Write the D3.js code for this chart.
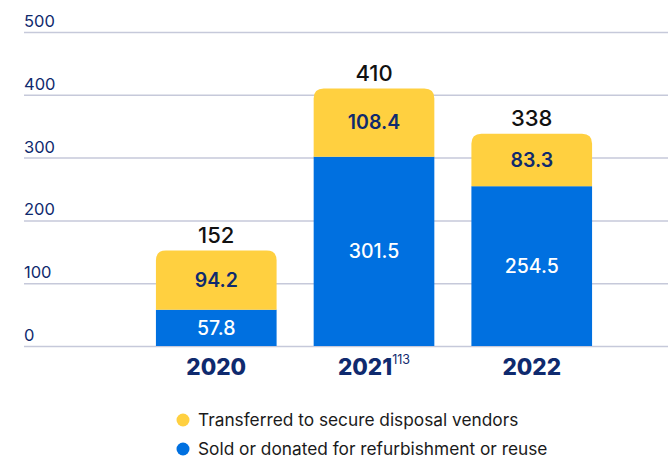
<!DOCTYPE html>
<html>
<head>
<meta charset="utf-8">
<script src="https://cdn.jsdelivr.net/npm/d3@7"></script>
<style>
  body { margin: 0; background: #fff; }
  text { font-family: Inter, "Noto Sans", sans-serif; }
</style>
</head>
<body>
<div id="chart"></div>
<script>
// DATA
const years = ["2020", "2021", "2022"];
const soldDonated = [57.8, 301.5, 254.5];
const transferred = [94.2, 108.4, 83.3];
const totals = ["152", "410", "338"];
const yTicks = [0, 100, 200, 300, 400, 500];
const legendLabels = ["Transferred to secure disposal vendors", "Sold or donated for refurbishment or reuse"];

const W = 668, H = 458;
const blue = "#0070e0", yellow = "#ffd040", navy = "#0f2a6e";

const svg = d3.select("#chart").append("svg")
    .attr("width", W)
    .attr("height", H);

// scales
const x = d3.scaleBand()
    .domain(years)
    .range([137, 611])
    .paddingInner(0.235)
    .paddingOuter(0.12);

const y = d3.scaleLinear()
    .domain([0, 500])
    .range([346, 32]);

// gridlines + labels
const grid = svg.append("g");
grid.selectAll("line")
    .data(yTicks)
    .enter()
    .append("line")
    .attr("x1", 24)
    .attr("x2", W)
    .attr("y1", d => y(d) + 0.5)
    .attr("y2", d => y(d) + 0.5)
    .attr("stroke", "#c6c9da")
    .attr("stroke-width", 1.5);

grid.selectAll("text")
    .data(yTicks)
    .enter()
    .append("text")
    .attr("x", 24)
    .attr("y", d => y(d) - 5)
    .attr("fill", navy)
    .style("font-size", "16.5px")
    .text(d => d);

// stacked bars
const rows = years.map((yr, i) => ({ year: yr, blue: soldDonated[i], yellow: transferred[i], total: totals[i] }));

function topRounded(x0, y0, w, h, r) {
    return `M${x0},${y0 + h}V${y0 + r}Q${x0},${y0} ${x0 + r},${y0}H${x0 + w - r}Q${x0 + w},${y0} ${x0 + w},${y0 + r}V${y0 + h}Z`;
}

const bars = svg.selectAll(".bar")
    .data(rows)
    .enter()
    .append("g")
    .attr("class", "bar");

bars.append("rect")
    .attr("x", d => x(d.year))
    .attr("width", x.bandwidth())
    .attr("y", d => y(d.blue))
    .attr("height", d => y(0) - y(d.blue))
    .attr("fill", blue);

bars.append("path")
    .attr("d", d => topRounded(x(d.year), y(d.blue + d.yellow), x.bandwidth(), y(d.blue) - y(d.blue + d.yellow), 10))
    .attr("fill", yellow);

// segment labels
bars.append("text")
    .attr("x", d => x(d.year) + x.bandwidth() / 2)
    .attr("y", d => (y(0) + y(d.blue)) / 2)
    .attr("dy", "0.35em")
    .attr("text-anchor", "middle")
    .attr("fill", "#fff")
    .style("font-size", "19.5px")
    .style("font-weight", 500)
    .text(d => d.blue.toFixed(1));

bars.append("text")
    .attr("x", d => x(d.year) + x.bandwidth() / 2)
    .attr("y", d => (y(d.blue) + y(d.blue + d.yellow)) / 2)
    .attr("dy", "0.35em")
    .attr("text-anchor", "middle")
    .attr("fill", navy)
    .style("font-size", "19.5px")
    .style("font-weight", 600)
    .text(d => d.yellow.toFixed(1));

// totals
bars.append("text")
    .attr("x", d => x(d.year) + x.bandwidth() / 2)
    .attr("y", d => y(d.blue + d.yellow) - 8)
    .attr("text-anchor", "middle")
    .attr("fill", "#111")
    .style("font-size", "22px")
    .style("font-weight", 500)
    .text(d => d.total);

// x labels
const xl = svg.selectAll(".xlab")
    .data(years)
    .enter()
    .append("text")
    .attr("class", "xlab")
    .attr("x", d => x(d) + x.bandwidth() / 2)
    .attr("y", 375)
    .attr("text-anchor", "middle")
    .attr("fill", navy)
    .style("font-size", "22.5px")
    .style("font-weight", 800)
    .text(d => d);

xl.filter(d => d === "2021")
    .append("tspan")
    .attr("dy", -11)
    .style("font-size", "12.5px")
    .style("font-weight", 400)
    .text("113");

// legend
const legend = svg.selectAll(".legend")
    .data(legendLabels)
    .enter()
    .append("g")
    .attr("class", "legend")
    .attr("transform", (d, i) => `translate(183, ${420 + i * 29})`);

legend.append("circle")
    .attr("r", 6.5)
    .attr("fill", (d, i) => i === 0 ? yellow : blue);

legend.append("text")
    .attr("x", 15)
    .attr("dy", "0.35em")
    .attr("fill", "#1a1a1a")
    .style("font-size", "17.3px")
    .text(d => d);
</script>
</body>
</html>
